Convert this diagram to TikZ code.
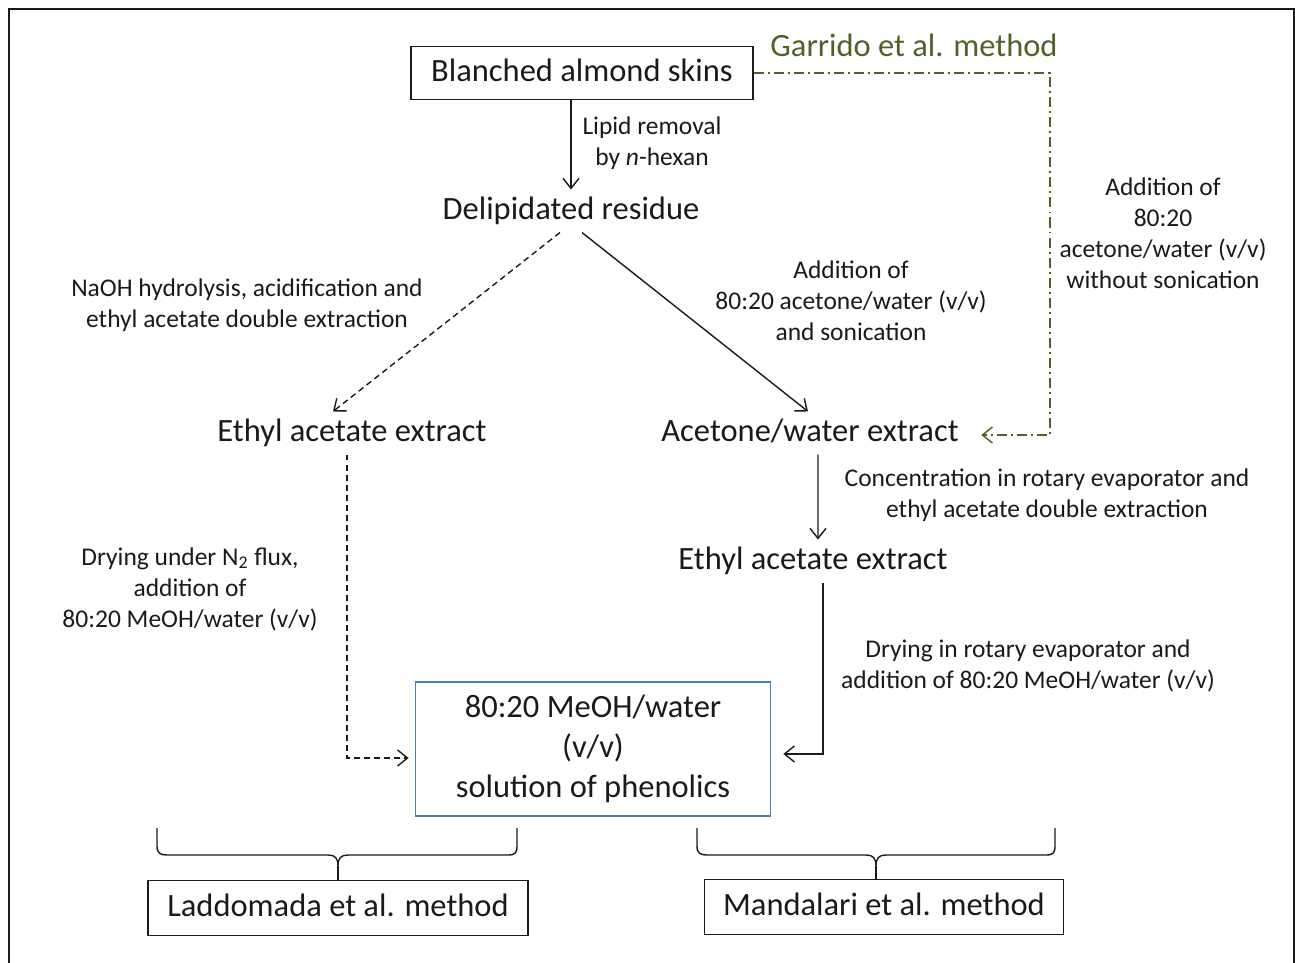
\documentclass[tikz,border=0pt]{standalone}
\usepackage{fontspec}
\setmainfont{Carlito}
\usetikzlibrary{arrows.meta}
\definecolor{ink}{HTML}{1A1A1A}
\definecolor{olive}{HTML}{4F6228}
\definecolor{boxblue}{HTML}{4A7EBB}
\newcommand{\stepfont}{\fontsize{18.5}{22.6}\selectfont}
\newcommand{\notefont}{\fontsize{14.5}{17.6}\selectfont}

\begin{document}
\begin{tikzpicture}[x=0.02cm,y=-0.02cm,>={Straight Barb[length=2mm,width=3.2mm]},line width=0.8pt,
  stage/.style={font=\stepfont,text=ink,inner sep=0.1cm,text height=14pt,text depth=4pt},
  boxed/.style={stage,draw=ink,line width=1pt},
  note/.style={font=\notefont,text=ink,align=center},
  garrido/.style={olive,dash pattern=on 5.7pt off 2.3pt on 1.1pt off 2.3pt},
  dashedline/.style={dash pattern=on 3.4pt off 2.3pt}]
  \useasboundingbox (0,0) rectangle (1295,963);
  % outer frame
  \draw[ink,line width=1pt] (9,963) -- (9,9) -- (1294,9) -- (1294,963);
  % stages
  \node[boxed,minimum width=6.84cm,minimum height=1.06cm] (skins) at (582,73) {Blanched almond skins};
  \node[stage] (delip) at (571,211) {Delipidated residue};
  \node[stage] (ethylA) at (352,433) {Ethyl acetate extract};
  \node[stage] (acetone) at (810,433) {Acetone/water extract};
  \node[stage] (ethylB) at (813,561) {Ethyl acetate extract};
  \node[draw=boxblue,line width=1pt,font=\stepfont,text=ink,align=center,
        minimum width=7.1cm,minimum height=2.68cm] (phen) at (593,749)
        {80:20 MeOH/water\\(v/v)\\solution of phenolics};
  \node[boxed,minimum width=7.6cm,minimum height=1.1cm] (lad) at (338,908) {Laddomada et al. method};
  \node[boxed,minimum width=7.18cm,minimum height=1.1cm] (man) at (884,907) {Mandalari et al. method};
  \node[font=\stepfont,text=olive] (garr) at (914,45) {Garrido et al. method};
  % step labels
  \node[note] (lipid) at (652,143) {Lipid removal\\by \textit{n}-hexan};
  \node[note] (naoh) at (247,305) {NaOH hydrolysis, acidification and\\ethyl acetate double extraction};
  \node[note] (sonic) at (851,301) {Addition of\\80:20 acetone/water (v/v)\\and sonication};
  \node[note] (nosonic) at (1163,233) {Addition of\\80:20\\acetone/water (v/v)\\without sonication};
  \node[note] (conc) at (1047,495) {Concentration in rotary evaporator and\\ethyl acetate double extraction};
  \node[note] (nflux) at (190,589) {Drying under N\textsubscript{2} flux,\\addition of\\80:20 MeOH/water (v/v)};
  \node[note] (rotdry) at (1028,666) {Drying in rotary evaporator and\\addition of 80:20 MeOH/water (v/v)};
  % connectors
  \draw[->,ink] (delip.north |- skins.south) -- (delip.north);
  \draw[->,ink,dashedline] ([xshift=-0.22cm]delip.south) -- ([xshift=-0.38cm]ethylA.north);
  \draw[->,ink] ([xshift=0.22cm]delip.south) -- ([xshift=-0.04cm]acetone.north);
  \coordinate (gturn) at (1050,73);
  \draw[->,garrido,shorten >=0.34cm] (skins.east) -- (gturn) |- ([yshift=-0.04cm]acetone.east);
  \draw[->,ink] ([xshift=0.16cm]acetone.south) -- ([xshift=0.1cm]ethylB.north);
  \draw[->,ink,dashedline,shorten >=0.12cm] ([xshift=-0.1cm]ethylA.south) |- ([yshift=-0.18cm]phen.west);
  \draw[->,ink,shorten >=0.24cm] ([xshift=0.2cm]ethylB.south) |- ([yshift=-0.1cm]phen.east);
  % braces
  \coordinate (ladtip) at (338,866);
  \coordinate (mantip) at (876,866);
  \draw[ink] (157,828) -- (157,846) .. controls (157,853) and (160,855) .. (167,855) -- (328,855)
    .. controls (335,855) and (338,858) .. (ladtip) .. controls (338,858) and (341,855) .. (348,855)
    -- (508,855) .. controls (515,855) and (517,853) .. (517,846) -- (517,828);
  \draw[ink] (ladtip) -- (lad.north);
  \draw[ink] (697,828) -- (697,846) .. controls (697,853) and (700,855) .. (707,855) -- (866,855)
    .. controls (873,855) and (876,858) .. (mantip) .. controls (876,858) and (879,855) .. (886,855)
    -- (1046,855) .. controls (1053,855) and (1055,853) .. (1055,846) -- (1055,828);
  \draw[ink] (mantip) -- (mantip |- man.north);
\end{tikzpicture}
\end{document}
